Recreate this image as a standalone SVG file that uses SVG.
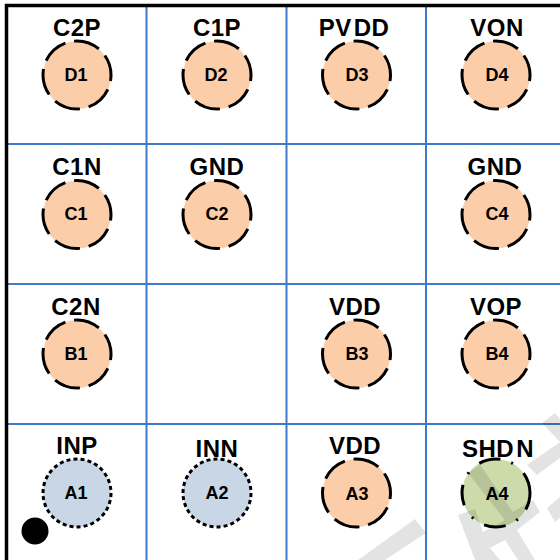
<svg xmlns="http://www.w3.org/2000/svg" width="560" height="560" viewBox="0 0 560 560">
<style>
.grid{stroke:#3f7bcb;stroke-width:2;fill:none}
.frame{stroke:#000;stroke-width:3.5;fill:none}
.pad{stroke:#000;stroke-width:3}
.o{fill:#fbcda8;stroke-dasharray:45 15;stroke-dashoffset:95}
.b{fill:#c8d6e5;stroke-dasharray:6.800 5.200}
.g{fill:#cddaaa;stroke-dasharray:65 21 3.500 20 37 21 3.500 24 35 20 3.500 23 37 19 3.500 24;stroke-dashoffset:36}
text{font-family:"Liberation Sans",Arial,sans-serif;font-weight:bold;text-anchor:middle;fill:#000}
.l{font-size:24px;letter-spacing:.5px}
.p{font-size:18px}
.wm{fill:#000;fill-opacity:.11}
</style>
<rect width="560" height="560" fill="#fff"/>
<g id="grid">
<path class="grid" d="M146.500 5V560M286.500 5V560M426 5V560M6 144H560M6 284H560M6 424H560"/>
<path class="frame" d="M6.500 560V5.500H560"/>
</g>
<g id="D1"><circle class="pad o" pathLength="360" cx="77" cy="75" r="34"/><text class="l" x="77" y="36">C2P</text><text class="p" x="76" y="81">D1</text></g>
<g id="D2"><circle class="pad o" pathLength="360" cx="217" cy="75" r="34"/><text class="l" x="217" y="36">C1P</text><text class="p" x="216" y="81">D2</text></g>
<g id="D3"><circle class="pad o" pathLength="360" cx="356.500" cy="75" r="34"/><text class="l" x="354" y="36">PV<tspan dx="2">DD</tspan></text><text class="p" x="357" y="81">D3</text></g>
<g id="D4"><circle class="pad o" pathLength="360" cx="496" cy="75" r="34"/><text class="l" x="497" y="36">VON</text><text class="p" x="497" y="81">D4</text></g>
<g id="C1"><circle class="pad o" pathLength="360" cx="77" cy="214.500" r="34"/><text class="l" x="77" y="175">C1N</text><text class="p" x="76" y="220">C1</text></g>
<g id="C2"><circle class="pad o" pathLength="360" cx="217" cy="214.500" r="34"/><text class="l" x="217" y="175">GND</text><text class="p" x="217" y="220">C2</text></g>
<g id="C4"><circle class="pad o" pathLength="360" cx="496" cy="214.500" r="34"/><text class="l" x="495" y="175">GND</text><text class="p" x="497" y="220">C4</text></g>
<g id="B1"><circle class="pad o" pathLength="360" cx="77" cy="354" r="34"/><text class="l" x="76" y="315">C2N</text><text class="p" x="76" y="360">B1</text></g>
<g id="B3"><circle class="pad o" pathLength="360" cx="356.500" cy="354" r="34"/><text class="l" x="355" y="315">VDD</text><text class="p" x="357" y="360">B3</text></g>
<g id="B4"><circle class="pad o" pathLength="360" cx="496" cy="354" r="34"/><text class="l" x="496" y="315">VOP</text><text class="p" x="497" y="360">B4</text></g>
<g id="A1"><circle class="pad b" pathLength="360" cx="77" cy="493" r="34"/><text class="l" x="77" y="454">INP</text><text class="p" x="76" y="499">A1</text></g>
<g id="A2"><circle class="pad b" pathLength="360" cx="217" cy="493" r="34"/><text class="l" x="217" y="457">INN</text><text class="p" x="217" y="499">A2</text></g>
<g id="A3"><circle class="pad o" pathLength="360" cx="356.500" cy="493" r="34"/><text class="l" x="355" y="454">VDD</text><text class="p" x="357" y="500">A3</text></g>
<g id="A4"><circle class="pad g" pathLength="360" cx="496" cy="493" r="34"/><text class="l" x="498" y="457">SHD<tspan dx="2">N</tspan></text><text class="p" x="497" y="500">A4</text></g>
<circle id="dot" cx="35" cy="531" r="13.500" fill="#000"/>
<g id="watermark">
<path class="wm" d="M415 519L426 533L385 560H358Z"/>
<path class="wm" d="M468 473L480 465L513 512L533 500L540 512L517 530L535 560H518L505 540L490 548L500 560H475L458 515L475 509L483 532L505 520Z"/>
<path class="wm" d="M555 413L560 419V458L537 475L527 465L560 442L542 423Z"/>
<path class="wm" d="M547 508L560 497V518L555 522Z"/>
</g>
</svg>
